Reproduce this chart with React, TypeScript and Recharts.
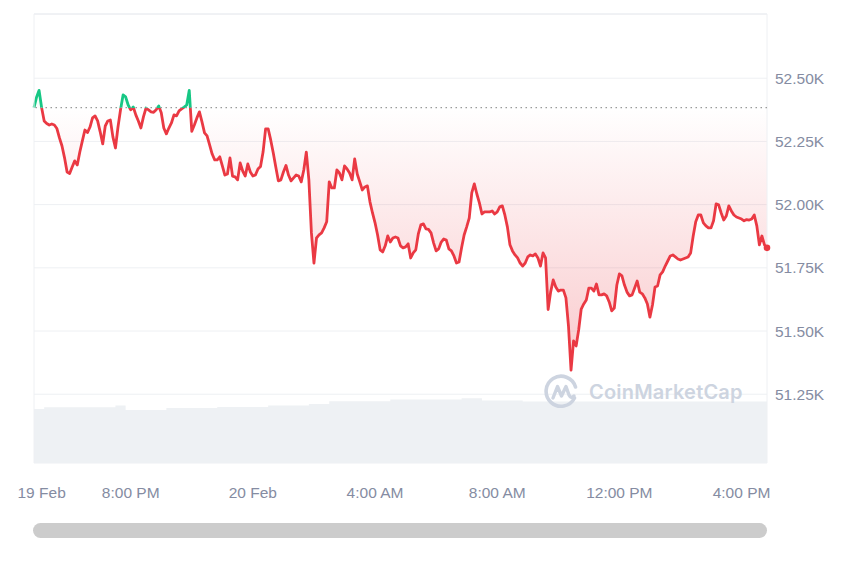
import React from "react";
import {
  ComposedChart,
  Area,
  XAxis,
  YAxis,
  CartesianGrid,
  ReferenceLine,
} from "recharts";

// BTC price, one value per 5-minute slot (slot 0 = 19 Feb ~4:50 PM)
const PRICES: number[] = [
  52384, 52425, 52452, 52383, 52331, 52321, 52315, 52319, 52315, 52301,
  52264, 52232, 52185, 52129, 52123, 52149, 52173, 52157, 52208, 52252,
  52295, 52285, 52307, 52343, 52351, 52331, 52288, 52240, 52311, 52331,
  52335, 52268, 52224, 52307, 52375, 52434, 52426, 52394, 52375, 52386,
  52355, 52331, 52303, 52347, 52382, 52375, 52367, 52365, 52375, 52390,
  52363, 52303, 52280, 52303, 52323, 52355, 52351, 52371, 52379, 52386,
  52394, 52452, 52290, 52315, 52343, 52367, 52327, 52284, 52272, 52236,
  52200, 52177, 52177, 52189, 52153, 52117, 52121, 52185, 52113, 52110,
  52098, 52165, 52133, 52113, 52161, 52129, 52113, 52117, 52141, 52151,
  52208, 52300, 52300, 52256, 52205, 52149, 52094, 52098, 52129, 52155,
  52117, 52094, 52106, 52117, 52113, 52090, 52137, 52208, 52098, 51888,
  51769, 51868, 51880, 51888, 51908, 51932, 52090, 52066, 52066, 52137,
  52125, 52098, 52153, 52141, 52125, 52098, 52181, 52121, 52090, 52058,
  52070, 52074, 52011, 51967, 51928, 51880, 51821, 51813, 51837, 51876,
  51852, 51868, 51872, 51868, 51837, 51829, 51833, 51845, 51789, 51809,
  51821, 51884, 51920, 51924, 51904, 51902, 51888, 51849, 51817, 51825,
  51852, 51864, 51860, 51825, 51817, 51797, 51769, 51773, 51829, 51880,
  51912, 51947, 52046, 52082, 52042, 52007, 51963, 51971, 51971, 51971,
  51975, 51963, 51971, 51991, 51995, 51959, 51912, 51841, 51817, 51801,
  51789, 51769, 51757, 51769, 51793, 51801, 51797, 51805, 51789, 51757,
  51809, 51789, 51585, 51655, 51702, 51674, 51658, 51662, 51662, 51631,
  51520, 51345, 51461, 51441, 51504, 51587, 51607, 51623, 51670, 51670,
  51658, 51686, 51643, 51643, 51647, 51639, 51615, 51580, 51591, 51682,
  51726, 51718, 51682, 51654, 51639, 51643, 51670, 51698, 51654, 51647,
  51631, 51607, 51555, 51603, 51674, 51678, 51722, 51734, 51757, 51777,
  51797, 51801, 51793, 51785, 51781, 51785, 51789, 51793, 51809, 51876,
  51932, 51959, 51959, 51928, 51916, 51908, 51908, 51936, 52003, 51999,
  51967, 51939, 51955, 51995, 51975, 51959, 51951, 51947, 51943, 51936,
  51941, 51939, 51943, 51959, 51916, 51841, 51876, 51841, 51829,
];

// Volume (billions USD), one value per 20-minute block (every 4th slot)
const VOLUME: number[] = [
  24.1, 24.8, 24.8, 24.8, 24.8, 24.8, 24.8, 24.8, 25.6, 23.6,
  23.6, 23.6, 23.6, 24.5, 24.5, 24.5, 24.5, 24.5, 25.0, 25.0,
  25.0, 25.0, 25.0, 25.6, 25.6, 25.6, 25.6, 26.3, 26.3, 27.5,
  27.5, 27.5, 27.5, 27.5, 27.5, 28.3, 28.3, 28.3, 28.3, 28.3,
  28.3, 28.3, 28.8, 28.8, 27.8, 27.8, 27.8, 27.8, 27.4, 27.4,
  27.4, 27.4, 27.4, 27.4, 27.4, 27.4, 27.4, 27.4, 27.4, 27.4,
  27.4, 27.4, 27.4, 27.4, 27.4, 27.4, 27.4, 27.4, 27.4, 27.4,
  27.4, 27.4, 27.4,
];
const VOLUME_BLOCK = 4;

const X_TICK_SLOTS: number[] = [3, 38, 86, 134, 182, 230, 278];
const X_TICK_LABELS: string[] = [
  "19 Feb",
  "8:00 PM",
  "20 Feb",
  "4:00 AM",
  "8:00 AM",
  "12:00 PM",
  "4:00 PM",
];
const Y_TICKS: number[] = [51250, 51500, 51750, 52000, 52250, 52500];
const Y_DOMAIN: [number, number] = [50978, 52754];
const VOL_DOMAIN: [number, number] = [0, 200];

const BASE = PRICES[0];
const LAST = PRICES.length - 1;
const MAX_V = Math.max(...PRICES);
const MIN_V = Math.min(...PRICES);
const SPLIT = (MAX_V - BASE) / (MAX_V - MIN_V);

const DATA = PRICES.map((price, i) => ({
  i,
  price,
  vol: i % VOLUME_BLOCK === 0 ? VOLUME[i / VOLUME_BLOCK] : undefined,
}));

const RED = "#ea3943";
const GREEN = "#16c784";
const LABEL = "#858ca2";
const FONT = "'Liberation Sans', Arial, Helvetica, sans-serif";

const fmtX = (v: number) => {
  const k = X_TICK_SLOTS.indexOf(v);
  return k >= 0 ? X_TICK_LABELS[k] : "";
};
const fmtY = (v: number) => (v / 1000).toFixed(2) + "K";

const EndDot = (props: any) => {
  const { cx, cy, index } = props;
  if (index !== LAST || cx == null || cy == null) return <g key={`d${index}`} />;
  return <circle key={`d${index}`} cx={cx} cy={cy} r={3.3} fill={RED} />;
};

const Watermark = () => (
  <div
    style={{
      position: "absolute",
      left: 544,
      top: 374,
      display: "flex",
      alignItems: "center",
      pointerEvents: "none",
    }}
  >
    <svg width={36} height={36} viewBox="0 0 36 36">
      <path
        d="M 30.5 24 A 15 15 0 1 1 31.5 13"
        fill="none"
        stroke="#cdd4e0"
        strokeWidth={3.6}
        strokeLinecap="round"
      />
      <path
        d="M 9 24 L 13.5 12.5 L 17.5 22 L 22 12.5 L 25 21 Q 27 25 30 22"
        fill="none"
        stroke="#cdd4e0"
        strokeWidth={3.4}
        strokeLinecap="round"
        strokeLinejoin="round"
      />
    </svg>
    <span
      style={{
        marginLeft: 9,
        fontFamily: "Inter, 'Open Sans', sans-serif",
        fontWeight: 600,
        fontSize: 20,
        color: "#cdd4e0",
        letterSpacing: 0.2,
      }}
    >
      CoinMarketCap
    </span>
  </div>
);

export default function App() {
  return (
    <div
      style={{
        position: "relative",
        width: 860,
        height: 573,
        margin: -8,
        background: "#ffffff",
        overflow: "hidden",
      }}
    >
      <ComposedChart
        width={860}
        height={573}
        data={DATA}
        margin={{ top: 14, right: 0, bottom: 80, left: 34 }}
        style={{ fontFamily: FONT }}
      >
        <defs>
          <linearGradient id="lineGrad" x1="0" y1="0" x2="0" y2="1">
            <stop offset={0} stopColor={GREEN} />
            <stop offset={SPLIT} stopColor={GREEN} />
            <stop offset={SPLIT} stopColor={RED} />
            <stop offset={1} stopColor={RED} />
          </linearGradient>
          <linearGradient id="fillGrad" x1="0" y1="0" x2="0" y2="1">
            <stop offset={0} stopColor={GREEN} stopOpacity={0.1} />
            <stop offset={SPLIT} stopColor={GREEN} stopOpacity={0.02} />
            <stop offset={SPLIT} stopColor={RED} stopOpacity={0.0} />
            <stop offset={1} stopColor={RED} stopOpacity={0.27} />
          </linearGradient>
        </defs>
        <XAxis
          dataKey="i"
          type="number"
          xAxisId="x"
          domain={[0, LAST]}
          ticks={X_TICK_SLOTS}
          tickFormatter={fmtX}
          interval={0}
          axisLine={false}
          tickLine={false}
          tickSize={0}
          tickMargin={24}
          height={30}
          tick={{ fill: LABEL, fontSize: 15.5, fontFamily: FONT }}
        />
        <YAxis
          yAxisId="p"
          orientation="right"
          type="number"
          domain={Y_DOMAIN}
          allowDataOverflow
          ticks={Y_TICKS}
          tickFormatter={fmtY}
          interval={0}
          axisLine={false}
          tickLine={false}
          tickSize={0}
          tickMargin={8}
          width={93}
          tick={{ fill: LABEL, fontSize: 15.5, fontFamily: FONT }}
        />
        <YAxis yAxisId="v" hide type="number" domain={VOL_DOMAIN} />
        <CartesianGrid
          xAxisId="x"
          yAxisId="p"
          vertical={false}
          stroke="#eef0f3"
          strokeWidth={1}
        />
        <Area
          xAxisId="x"
          yAxisId="v"
          dataKey="vol"
          type="stepAfter"
          connectNulls
          stroke="none"
          fill="#eef1f4"
          fillOpacity={1}
          baseValue={0}
          dot={false}
          activeDot={false}
          isAnimationActive={false}
        />
        <ReferenceLine xAxisId="x" yAxisId="p" y={Y_DOMAIN[1]} stroke="#e9ecf0" />
        <ReferenceLine xAxisId="x" yAxisId="p" x={0} stroke="#eef0f3" />
        <ReferenceLine xAxisId="x" yAxisId="p" x={LAST} stroke="#eef0f3" />
        <ReferenceLine
          xAxisId="x"
          yAxisId="p"
          y={BASE}
          stroke="#9a9a9a"
          strokeWidth={1.3}
          strokeDasharray="1.5 3.5"
        />
        <Area
          xAxisId="x"
          yAxisId="p"
          dataKey="price"
          type="linear"
          baseValue={BASE}
          stroke="url(#lineGrad)"
          strokeWidth={2.8}
          strokeLinejoin="round"
          fill="url(#fillGrad)"
          fillOpacity={1}
          dot={EndDot}
          activeDot={false}
          isAnimationActive={false}
        />
      </ComposedChart>
      <Watermark />
      <div
        style={{
          position: "absolute",
          left: 33,
          top: 523,
          width: 734,
          height: 15,
          borderRadius: 8,
          background: "#cccccc",
        }}
      />
    </div>
  );
}
